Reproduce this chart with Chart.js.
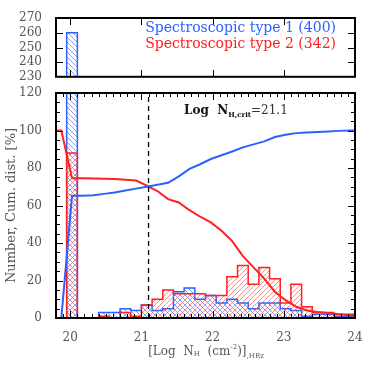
<!DOCTYPE html>
<html>
<head>
<meta charset="utf-8">
<script src="https://cdn.jsdelivr.net/npm/chart.js@4.4.0/dist/chart.umd.min.js"></script>
<style>
    html, body { margin: 0; padding: 0; background: #fff; }
    #wrap { position: relative; width: 374px; height: 374px; }
    #bot { position: absolute; left: 0; top: 0; width: 374px; height: 374px; }
    #top { position: absolute; left: 0; top: 0; width: 374px; height: 90px; }
    canvas { display: block; }
</style>
</head>
<body>
<div id="wrap">
    <div id="bot"><canvas id="bottom-chart" width="374" height="374"></canvas></div>
    <div id="top"><canvas id="top-chart" width="374" height="90"></canvas></div>
</div>
<script>
// Histogram bins (Log NH), counts per bin
const binEdges = [19.95, 20.10, 20.25, 20.40, 20.55, 20.70, 20.85, 21.00, 21.15, 21.30, 21.45, 21.60, 21.75, 21.90,
    22.05, 22.20, 22.35, 22.50, 22.65, 22.80, 22.95, 23.10, 23.25, 23.40, 23.55, 23.70, 23.85, 24.00];
const type1Counts = [260, 0, 0, 3, 3, 5, 4, 7, 4, 5, 14, 16, 10, 12, 8, 10, 8, 5, 8, 8, 5, 4, 1, 2, 2, 1, 1];
const type2Counts = [88, 0, 0, 1, 0, 3, 1, 7, 10, 15, 13, 13, 13, 12, 12, 22, 28, 18, 27, 21, 8, 18, 6, 3, 3, 2, 2];

// Cumulative distributions (at bin centres)
const cumLogNH = [19.725, 19.875, 20.025, 20.175, 20.325, 20.475, 20.625, 20.775, 20.925, 21.075, 21.225, 21.375,
    21.525, 21.675, 21.825, 21.975, 22.125, 22.275, 22.425, 22.575, 22.725, 22.875, 23.025, 23.175, 23.325, 23.475,
    23.625, 23.775, 23.925, 24.075];
const type1Cum = [0, 0, 65.2, 65.2, 65.5, 66.2, 66.9, 68, 69, 70, 71.1, 72.1, 75.5, 79.5, 82, 84.8, 86.8, 88.8, 91,
    92.6, 94.2, 96.5, 97.7, 98.6, 98.9, 99.2, 99.5, 99.8, 100, 100];
const type2Cum = [100, 100, 74.5, 74.5, 74.4, 74.3, 74.1, 73.7, 73.3, 70.6, 67.7, 63.4, 61.6, 57.5, 54, 51, 46.5, 41,
    33, 27, 21, 14, 9.5, 6, 4, 3.2, 2.7, 2, 1.5, 1.2];

const critLogNH = 21.1;
const xTickLabels = [20, 21, 22, 23, 24];
const yTickLabels = [0, 20, 40, 60, 80, 100, 120];
const topYTickLabels = [230, 240, 250, 260, 270];
const legendLabels = ['Spectroscopic type 1 (400)', 'Spectroscopic type 2 (342)'];

const BLUE = '#2b62ff';
const RED = '#ff2020';
const GREY = '#555';
const FONT = 'DejaVu Serif';

function hatch(color, dir) {
    const s = 5;
    const c = document.createElement('canvas');
    c.width = c.height = s;
    const g = c.getContext('2d');
    g.strokeStyle = color;
    g.lineWidth = 1;
    g.beginPath();
    if (dir > 0) {
        g.moveTo(0, s); g.lineTo(s, 0);
        g.moveTo(-1, 1); g.lineTo(1, -1);
        g.moveTo(s - 1, s + 1); g.lineTo(s + 1, s - 1);
    } else {
        g.moveTo(0, 0); g.lineTo(s, s);
        g.moveTo(-1, s - 1); g.lineTo(1, s + 1);
        g.moveTo(s - 1, -1); g.lineTo(s + 1, 1);
    }
    g.stroke();
    return g.createPattern(c, 'repeat');
}

function histPoints(counts) {
    const pts = [{ x: binEdges[0], y: 0 }];
    counts.forEach((c, i) => pts.push({ x: binEdges[i], y: c }));
    pts.push({ x: binEdges[binEdges.length - 1], y: 0 });
    return pts;
}

function histDataset(counts, color, fillColor, order) {
    return {
        data: histPoints(counts),
        stepped: true,
        borderColor: color,
        borderWidth: 1.5,
        backgroundColor: fillColor,
        fill: 'origin',
        pointRadius: 0,
        order: order
    };
}

// inward ticks + frame, IDL style
function frameTicks(t) {
    return {
        id: 'frameTicks' + t.name,
        afterDraw(chart) {
            const ctx = chart.ctx;
            const a = chart.chartArea;
            const xs = chart.scales.x;
            const ys = chart.scales.y;
            const left = Math.round(a.left), right = Math.round(a.right);
            const top = Math.round(a.top), bottom = Math.round(a.bottom);
            // pixel positions from the scales' own range
            const xPix = v => Math.round(left + (v - xs.min) / (xs.max - xs.min) * (right - left));
            const yPix = v => Math.round(bottom - (v - ys.min) / (ys.max - ys.min) * (bottom - top));
            ctx.save();
            ctx.fillStyle = '#000';
            const xTicks = (vals, len) => {
                for (const v of vals) {
                    const px = xPix(v);
                    if (!(px > left + 1 && px < right - 1)) continue;
                    ctx.fillRect(px, bottom - len, 1, len);
                    ctx.fillRect(px, top, 1, len);
                }
            };
            const yTicks = (vals, len) => {
                for (const v of vals) {
                    const py = yPix(v);
                    if (!(py > top + 1 && py < bottom - 1)) continue;
                    ctx.fillRect(left, py, len, 1);
                    ctx.fillRect(right - len, py, len, 1);
                }
            };
            xTicks(t.xMinor, 4);
            xTicks(t.xMajor, 7);
            yTicks(t.yMinor, 4);
            yTicks(t.yMajor, 7);
            ctx.strokeStyle = '#000';
            ctx.lineWidth = 2;
            ctx.strokeRect(a.left, a.top, a.width, a.height);
            ctx.restore();
        }
    };
}

function drawRuns(ctx, runs, x, y, align) {
    let total = 0;
    runs.forEach(r => { ctx.font = r.font; total += ctx.measureText(r.text).width; });
    let cx = align === 'center' ? x - total / 2 : x;
    runs.forEach(r => {
        ctx.font = r.font;
        ctx.fillStyle = r.color;
        ctx.fillText(r.text, cx, y + (r.dy || 0));
        cx += ctx.measureText(r.text).width;
    });
}

const bottomText = {
    id: 'bottomText',
    afterDraw(chart) {
        const ctx = chart.ctx;
        ctx.save();
        ctx.textBaseline = 'alphabetic';
        ctx.textAlign = 'left';
        const big = `12px ${FONT}`;
        const small = `7px ${FONT}`;
        drawRuns(ctx, [
            { text: '[Log  N', font: big, color: GREY },
            { text: 'H', font: small, color: GREY, dy: 1 },
            { text: '  (cm', font: big, color: GREY },
            { text: '-2', font: small, color: GREY, dy: -6 },
            { text: ')]', font: big, color: GREY },
            { text: ',HRz', font: small, color: GREY, dy: 3 }
        ], 206, 355, 'center');
        drawRuns(ctx, [
            { text: 'Log  N', font: `bold 12px ${FONT}`, color: '#111' },
            { text: 'H,crit', font: `bold 7px ${FONT}`, color: '#111', dy: 3 },
            { text: '=21.1', font: `12px ${FONT}`, color: '#333' }
        ], 184, 114, 'left');
        ctx.restore();
    }
};

const topText = {
    id: 'topText',
    afterDraw(chart) {
        const ctx = chart.ctx;
        ctx.save();
        ctx.font = `14px ${FONT}`;
        ctx.textAlign = 'right';
        ctx.textBaseline = 'alphabetic';
        ctx.fillStyle = BLUE;
        ctx.fillText(legendLabels[0], 336, 32);
        ctx.fillStyle = RED;
        ctx.fillText(legendLabels[1], 336, 48);
        ctx.restore();
    }
};

const minorX = [];
for (let v = 19.8; v <= 24.001; v += 0.1) minorX.push(+v.toFixed(1));
const minorY = [];
for (let v = 0; v <= 120; v += 5) minorY.push(v);

const blueHatch = hatch('rgba(70,120,255,0.7)', -1);
const redHatch = hatch('rgba(255,90,90,0.7)', 1);

const tickFont = { family: FONT, size: 12 };

new Chart(document.getElementById('bottom-chart'), {
    type: 'line',
    data: {
        datasets: [
            {
                data: [{ x: critLogNH, y: 0 }, { x: critLogNH, y: 120 }],
                borderColor: '#000',
                borderWidth: 1.3,
                borderDash: [5, 4],
                pointRadius: 0,
                fill: false,
                order: 0
            },
            {
                data: cumLogNH.map((v, i) => ({ x: v, y: type1Cum[i] })),
                borderColor: BLUE,
                borderWidth: 2,
                pointRadius: 0,
                fill: false,
                order: 1
            },
            {
                data: cumLogNH.map((v, i) => ({ x: v, y: type2Cum[i] })),
                borderColor: RED,
                borderWidth: 2,
                pointRadius: 0,
                fill: false,
                order: 1
            },
            histDataset(type2Counts, RED, redHatch, 2),
            histDataset(type1Counts, BLUE, blueHatch, 3)
        ]
    },
    options: {
        responsive: false,
        animation: false,
        layout: { padding: { top: 93, right: 19, left: 0, bottom: 0 } },
        plugins: {
            legend: { display: false },
            tooltip: { enabled: false }
        },
        scales: {
            x: {
                type: 'linear',
                min: 19.8,
                max: 24,
                afterFit: s => { s.height = 56; },
                afterBuildTicks: s => { s.ticks = xTickLabels.map(v => ({ value: v })); },
                grid: { display: false },
                border: { display: false },
                ticks: { color: GREY, font: tickFont, padding: 5, maxRotation: 0, autoSkip: false }
            },
            y: {
                min: 0,
                max: 120,
                afterFit: s => { s.width = 56; },
                afterBuildTicks: s => { s.ticks = yTickLabels.map(v => ({ value: v })); },
                grid: { display: false },
                border: { display: false },
                ticks: { color: GREY, font: tickFont, padding: 6, autoSkip: false },
                title: {
                    display: true,
                    text: 'Number, Cum. dist. [%]',
                    color: GREY,
                    font: { family: FONT, size: 13 }
                }
            }
        }
    },
    plugins: [frameTicks({ name: 'Bottom', xMajor: xTickLabels, xMinor: minorX, yMajor: yTickLabels, yMinor: minorY }), bottomText]
});

new Chart(document.getElementById('top-chart'), {
    type: 'line',
    data: {
        datasets: [
            histDataset(type1Counts, BLUE, blueHatch, 1)
        ]
    },
    options: {
        responsive: false,
        animation: false,
        layout: { padding: { top: 18, right: 19, left: 0, bottom: 8 } },
        plugins: {
            legend: { display: false },
            tooltip: { enabled: false }
        },
        scales: {
            x: {
                type: 'linear',
                min: 19.8,
                max: 24,
                display: false
            },
            y: {
                min: 230,
                max: 270,
                afterFit: s => { s.width = 56; },
                afterBuildTicks: s => { s.ticks = topYTickLabels.map(v => ({ value: v })); },
                grid: { display: false },
                border: { display: false },
                ticks: { color: GREY, font: tickFont, padding: 6, autoSkip: false }
            }
        }
    },
    plugins: [frameTicks({ name: 'Top', xMajor: xTickLabels, xMinor: [], yMajor: topYTickLabels, yMinor: [] }), topText]
});
</script>
</body>
</html>
